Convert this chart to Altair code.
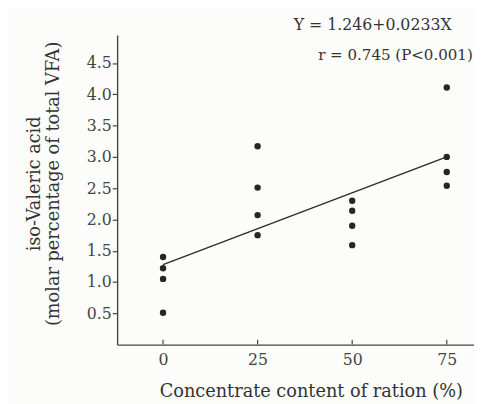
import altair as alt
import pandas as pd

# --- data ---
concentrate = [0, 0, 0, 0, 25, 25, 25, 25, 50, 50, 50, 50, 75, 75, 75, 75]
iso_valeric = [1.40, 1.22, 1.05, 0.51,
               3.17, 2.51, 2.07, 1.75,
               2.30, 2.14, 1.90, 1.59,
               4.11, 3.00, 2.76, 2.54]
fit_x = [0, 75]
fit_y = [1.28, 3.00]
x_tick_values = [0, 25, 50, 75]
y_tick_values = [0.5, 1.0, 1.5, 2.0, 2.5, 3.0, 3.5, 4.0, 4.5]
equation_text = "Y = 1.246+0.0233X"
stats_text = "r = 0.745 (P<0.001)"
x_title = "Concentrate content of ration (%)"
y_title = ["iso-Valeric acid", "(molar percentage of total VFA)"]

points_df = pd.DataFrame({"x": concentrate, "y": iso_valeric})
fit_df = pd.DataFrame({"x": fit_x, "y": fit_y})
ticks_df = pd.DataFrame({"x": x_tick_values})
note_df = pd.DataFrame({"text": [equation_text, stats_text]})

FONT = "DejaVu Serif"
INK = "#333333"

xscale = alt.Scale(domain=[-12.14, 82.2], nice=False, zero=False)
yscale = alt.Scale(domain=[0, 4.95], nice=False, zero=False)

xaxis = alt.Axis(values=x_tick_values, tickCount=20, ticks=False, grid=False,
                 labelPadding=7, labelOverlap=False, title=x_title, titleX=197,
                 titlePadding=16)
yaxis = alt.Axis(values=y_tick_values, tickCount=20, format=".1f", grid=False,
                 tickSize=5, labelPadding=1, labelOverlap=False, labelBound=False,
                 title=y_title, titlePadding=24, titleY=151, titleLineHeight=19)

points = alt.Chart(points_df).mark_circle(size=42, color="#262626", opacity=1).encode(
    x=alt.X("x:Q", scale=xscale, axis=xaxis),
    y=alt.Y("y:Q", scale=yscale, axis=yaxis),
)

fit = alt.Chart(fit_df).mark_line(color="#2a2a2a", strokeWidth=1.3).encode(
    x=alt.X("x:Q", scale=xscale, axis=xaxis),
    y=alt.Y("y:Q", scale=yscale, axis=yaxis),
)

xticks = alt.Chart(ticks_df).mark_rule(color="#444444", strokeWidth=1.2).encode(
    x=alt.X("x:Q", scale=xscale, axis=xaxis),
    y=alt.value(310),
    y2=alt.value(315),
)

eq = alt.Chart(note_df).transform_filter(
    alt.datum.text == equation_text
).mark_text(
    font=FONT, fontSize=16, color=INK, align="center", baseline="middle"
).encode(x=alt.datum(55.4), y=alt.datum(5.11), text="text:N")

st = alt.Chart(note_df).transform_filter(
    alt.datum.text == stats_text
).mark_text(
    font=FONT, fontSize=15.3, color=INK, align="left", baseline="middle"
).encode(x=alt.datum(41.0), y=alt.datum(4.62), text="text:N")

chart = alt.layer(fit, points, xticks, eq, st).properties(
    width=363,
    height=315,
    autosize=alt.AutoSizeParams(type="none"),
    padding={"left": 111, "top": 24, "right": 0, "bottom": 57},
    background="#fcfcfa",
).configure_view(stroke=None).configure_axis(
    domainColor="#444444",
    domainWidth=1.4,
    tickColor="#444444",
    tickWidth=1.2,
    labelFont=FONT,
    labelFontSize=16,
    labelColor="#444444",
    labelOverlap=False,
    titleFont=FONT,
    titleFontSize=18,
    titleFontWeight="normal",
    titleColor=INK,
)

chart.save("out.html", embed_options={"renderer": "svg", "actions": False})
